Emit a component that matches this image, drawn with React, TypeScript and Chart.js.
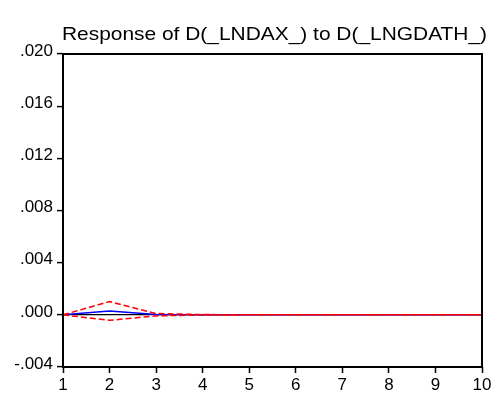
import React, { useEffect, useRef } from "react";
import { Chart, registerables } from "chart.js";

Chart.register(...registerables);

const TITLE = "Response of D(_LNDAX_) to D(_LNGDATH_)";
const periods = [1, 2, 3, 4, 5, 6, 7, 8, 9, 10];
const response = [0, 0.0003, 0.00003, 0.000005, 0, 0, 0, 0, 0, 0];
const upperBand = [0, 0.00102, 0.0001, 0.00002, 0.000003, 0, 0, 0, 0, 0];
const lowerBand = [0, -0.00042, -0.00008, -0.00001, -0.000002, 0, 0, 0, 0, 0];
const yMin = -0.004;
const yMax = 0.02;
const yStep = 0.004;

function fmt(v: number): string {
  if (Math.abs(v) < 1e-12) return ".000";
  const s = Math.abs(v).toFixed(3).replace(/^0/, "");
  return (v < 0 ? "-" : "") + s;
}

const FAMILY = "'Liberation Sans', Arial, sans-serif";

const framePlugin = {
  id: "frameAndTitle",
  afterDraw(chart: any) {
    const { ctx, chartArea } = chart;
    ctx.save();
    ctx.strokeStyle = "#000";
    ctx.lineWidth = 2;
    ctx.strokeRect(chartArea.left, chartArea.top, chartArea.right - chartArea.left, chartArea.bottom - chartArea.top);
    ctx.fillStyle = "#000";
    ctx.font = "19px " + FAMILY;
    const w = ctx.measureText(TITLE).width;
    const targetW = 425;
    const sx = targetW / w;
    ctx.textAlign = "left";
    ctx.textBaseline = "alphabetic";
    ctx.translate(62, 40);
    ctx.scale(sx, 1);
    ctx.fillText(TITLE, 0, 0);
    ctx.restore();
  },
};

export default function App() {
  const ref = useRef<HTMLCanvasElement | null>(null);
  useEffect(() => {
    if (!ref.current) return;
    const toPts = (arr: number[]) => periods.map((p, i) => ({ x: p, y: arr[i] }));
    const chart = new Chart(ref.current, {
      type: "line",
      data: {
        datasets: [
          {
            data: toPts(upperBand),
            borderColor: "#ff0000",
            borderWidth: 1.5,
            borderDash: [6, 3],
            pointRadius: 0,
            tension: 0,
          },
          {
            data: toPts(lowerBand),
            borderColor: "#ff0000",
            borderWidth: 1.5,
            borderDash: [6, 3],
            pointRadius: 0,
            tension: 0,
          },
          {
            data: toPts(response),
            borderColor: "#0000ff",
            borderWidth: 1.5,
            pointRadius: 0,
            tension: 0,
          },
        ],
      },
      options: {
        animation: false,
        responsive: false,
        maintainAspectRatio: false,
        layout: { padding: { top: 54, right: 13, left: 0, bottom: 0 } },
        plugins: { legend: { display: false }, title: { display: false }, tooltip: { enabled: false } },
        scales: {
          x: {
            type: "linear",
            min: 1,
            max: 10,
            ticks: { stepSize: 1, color: "#000", font: { family: FAMILY, size: 17 }, padding: 2, maxRotation: 0 },
            grid: { drawOnChartArea: false, color: "#000", tickLength: 6, tickWidth: 1.5 },
            border: { display: false },
            afterFit: (s: any) => { s.height = 27; },
          },
          y: {
            min: yMin,
            max: yMax,
            ticks: {
              stepSize: yStep,
              color: "#000",
              font: { family: FAMILY, size: 17, lineHeight: "6px" },
              padding: 4,
              callback: (v: any) => [fmt(Number(v)), ""],
            },
            grid: {
              color: (c: any) => (c.tick && Math.abs(c.tick.value) < 1e-12 ? "#000" : "rgba(0,0,0,0)"),
              lineWidth: 1.2,
              tickColor: "#000",
              tickLength: 6,
              tickWidth: 1.5,
            },
            border: { display: false },
            afterFit: (s: any) => { s.width = 63; },
          },
        },
      },
      plugins: [framePlugin],
    } as any);
    return () => chart.destroy();
  }, []);
  return (
    <div style={{ position: "fixed", left: 0, top: 0, width: 495, height: 394, background: "#fff" }}>
      <canvas ref={ref} width={495} height={394} style={{ width: 495, height: 394, display: "block" }} />
    </div>
  );
}
